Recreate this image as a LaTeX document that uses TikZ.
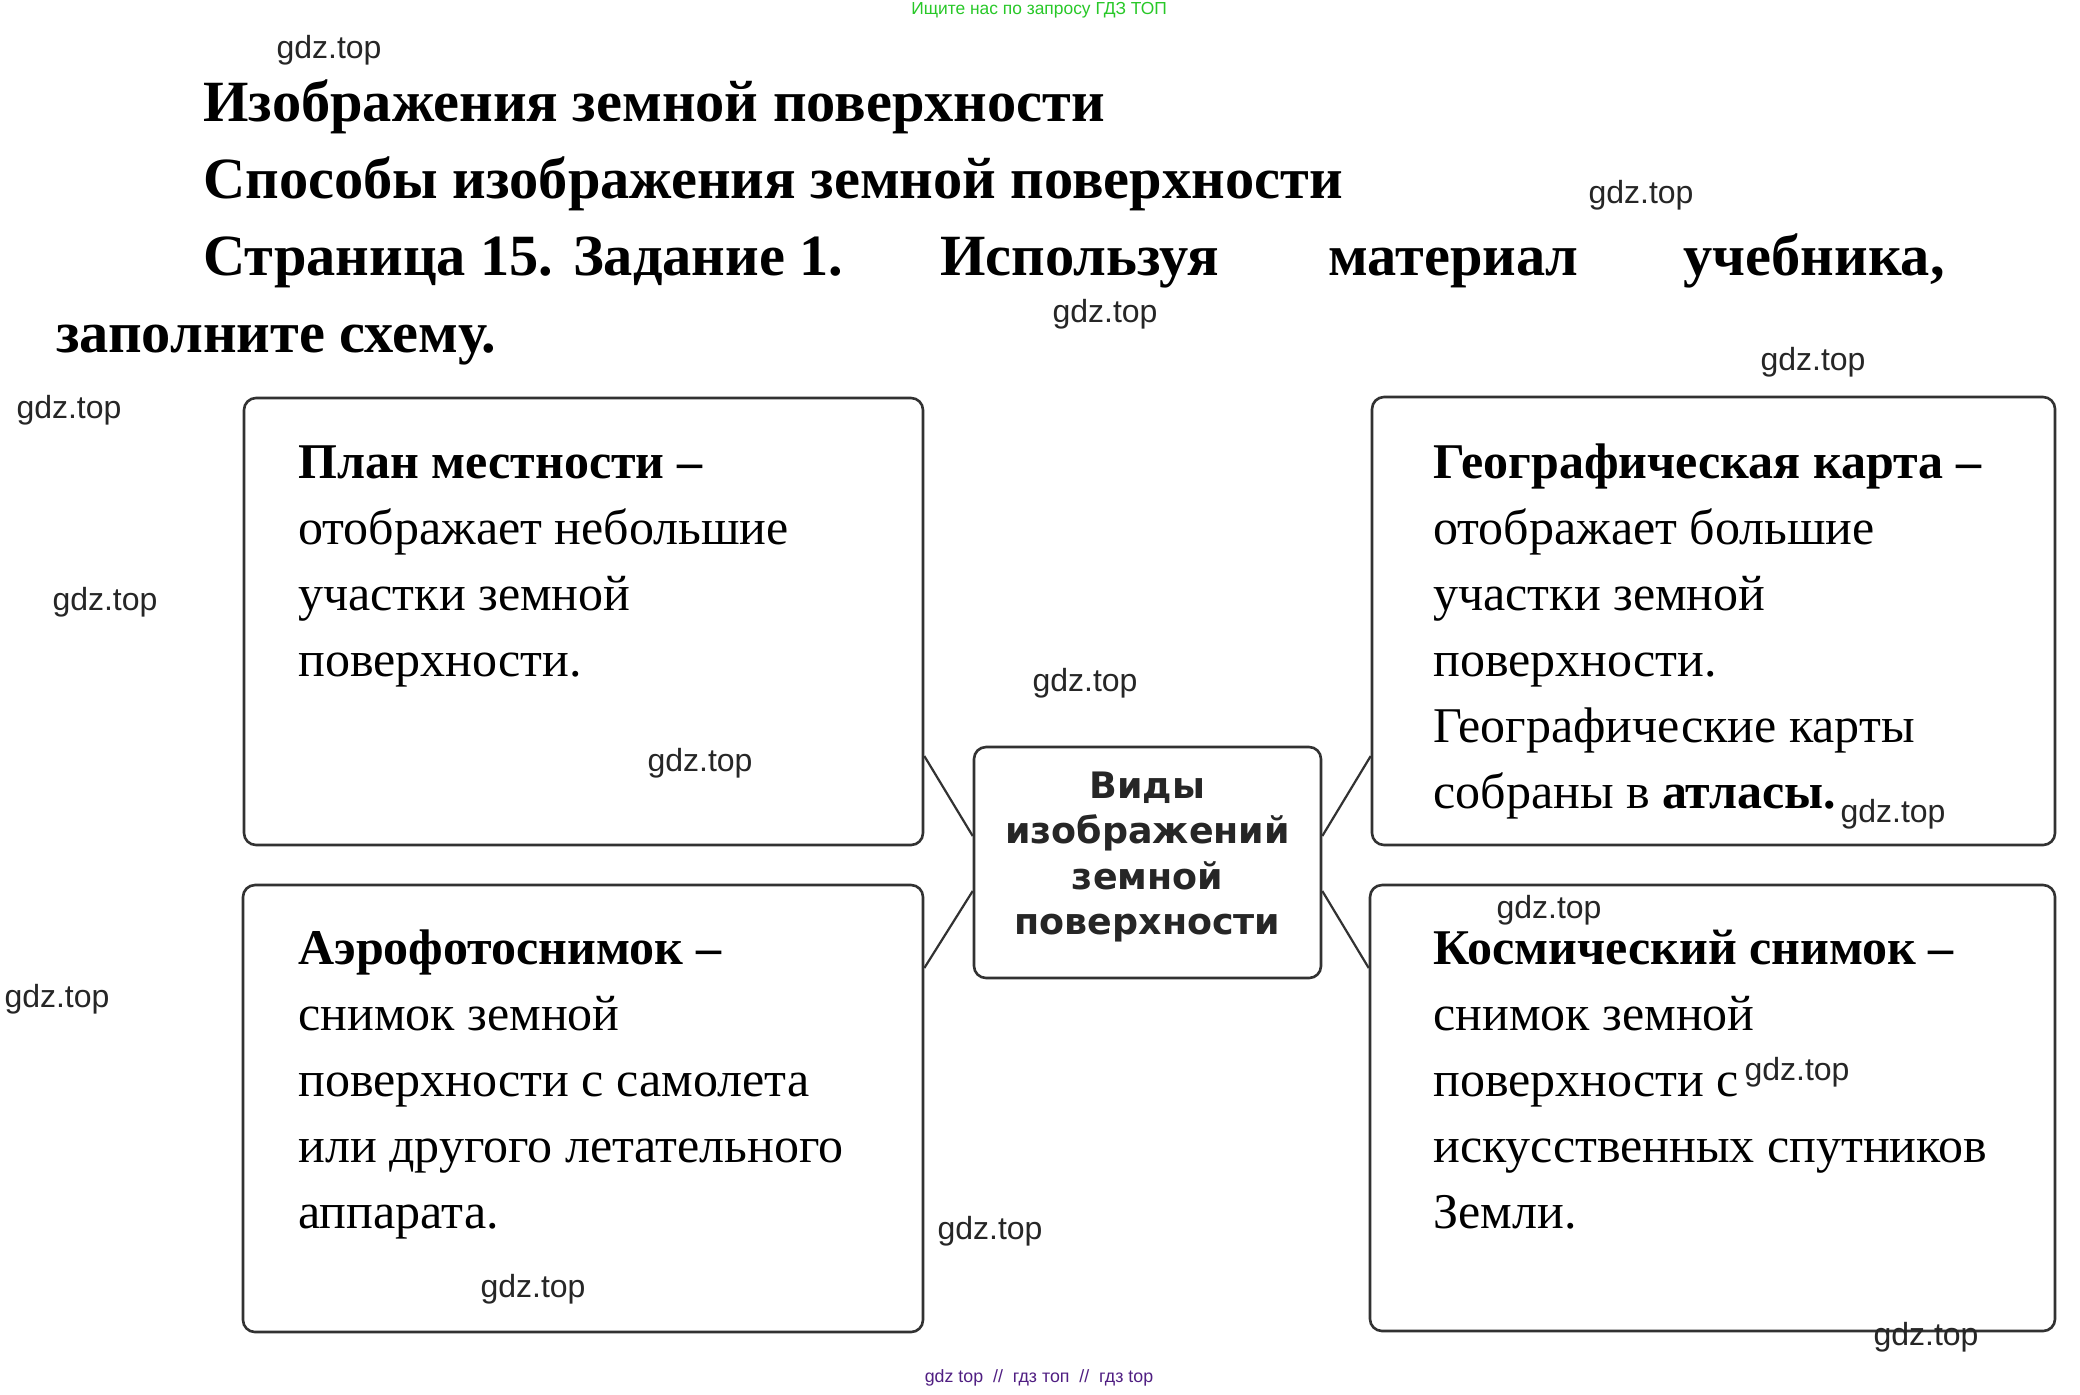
\documentclass[tikz,border=0pt]{standalone}
\usepackage{fontspec}
\setmainfont{Liberation Serif}
\newfontfamily\wmfont{Liberation Sans}
\newfontfamily\ctrfont{DejaVu Sans}
\definecolor{wmgreen}{RGB}{40,200,40}
\definecolor{wmpurple}{RGB}{80,30,130}
\definecolor{boxline}{RGB}{50,50,50}
\begin{document}
\begin{tikzpicture}[x=0.5pt,y=-0.5pt,
  card/.style={draw=boxline,line width=1.3pt,rounded corners=6pt,inner sep=0pt},
  link/.style={draw=boxline,line width=1.1pt},
  body/.style={anchor=base west,inner sep=0pt,font=\fontsize{25}{33}\selectfont},
  ttl/.style={anchor=base west,inner sep=0pt,font=\fontsize{29.2}{38}\selectfont\bfseries},
  wm/.style={inner sep=0pt,font=\wmfont\fontsize{16}{18}\selectfont,text=black!85},
  ctrtext/.style={inner sep=0pt,font=\ctrfont\bfseries\fontsize{18.2}{22.7}\selectfont,text=black!85,align=center}]
\useasboundingbox[fill=white] (0,0) rectangle (2080,1394);

% header watermark
\node[inner sep=0pt,font=\wmfont\fontsize{8.7}{10}\selectfont,text=wmgreen] (top) at (1039,10) {Ищите нас по запросу ГДЗ ТОП};

% titles
\node[ttl] (t1) at (203,121) {Изображения земной поверхности};
\node[ttl] (t2) at (203,198) {Способы изображения земной поверхности};
\node[ttl] (t3a) at (203,275) {Страница 15. Задание 1.};
\node[ttl] (t3b) at (940,275) {Используя};
\node[ttl] (t3c) at (1328,275) {материал};
\node[ttl,anchor=base east] (t3d) at (1945,275) {учебника,};
\node[ttl] (t4) at (56,352) {заполните схему.};

% boxes
\node[card,minimum width=339.5pt,minimum height=223.5pt] (tl) at (583.5,621.5) {};
\node[card,minimum width=340pt,minimum height=223.5pt] (bl) at (583,1108.5) {};
\node[card,minimum width=341.5pt,minimum height=224pt] (tr) at (1713.5,621) {};
\node[card,minimum width=342.5pt,minimum height=223pt] (br) at (1712.5,1108) {};
\node[card,minimum width=173.5pt,minimum height=115.5pt] (ctr) at (1147.5,862.5) {};
\node[ctrtext] (ctrtxt) at (1147.5,857) {Виды\\изображений\\земной\\поверхности};

% connectors
\coordinate (ptl) at (tl.east |- 0,756);
\coordinate (pbl) at (bl.east |- 0,968);
\coordinate (ptr) at (tr.west |- 0,756);
\coordinate (pbr) at (br.west |- 0,968);
\coordinate (cl1) at (ctr.west |- 0,836);
\coordinate (cl2) at (ctr.west |- 0,891);
\coordinate (cr1) at (ctr.east |- 0,836);
\coordinate (cr2) at (ctr.east |- 0,891);
\draw[link] (ptl) -- (cl1);
\draw[link] (pbl) -- (cl2);
\draw[link] (ptr) -- (cr1);
\draw[link] (pbr) -- (cr2);

% top-left text
\node[body] (a1) at (298,478) {\textbf{План местности –}};
\node[body] (a2) at (298,544) {отображает небольшие};
\node[body] (a3) at (298,610) {участки земной};
\node[body] (a4) at (298,676) {поверхности.};

% top-right text
\node[body] (b1) at (1433,478) {\textbf{Географическая карта –}};
\node[body] (b2) at (1433,544) {отображает большие};
\node[body] (b3) at (1433,610) {участки земной};
\node[body] (b4) at (1433,676) {поверхности.};
\node[body] (b5) at (1433,742) {Географические карты};
\node[body] (b6) at (1433,808) {собраны в \textbf{атласы.}};

% bottom-left text
\node[body] (c1) at (298,964) {\textbf{Аэрофотоснимок –}};
\node[body] (c2) at (298,1030) {снимок земной};
\node[body] (c3) at (298,1096) {поверхности с самолета};
\node[body] (c4) at (298,1162) {или другого летательного};
\node[body] (c5) at (298,1228) {аппарата.};

% bottom-right text
\node[body] (d1) at (1433,964) {\textbf{Космический снимок –}};
\node[body] (d2) at (1433,1030) {снимок земной};
\node[body] (d3) at (1433,1096) {поверхности с};
\node[body] (d4) at (1433,1162) {искусственных спутников};
\node[body] (d5) at (1433,1228) {Земли.};

% watermarks
\node[wm] (w1) at (329,50) {gdz.top};
\node[wm] (w2) at (1641,195) {gdz.top};
\node[wm] (w3) at (1105,314) {gdz.top};
\node[wm] (w4) at (1813,362) {gdz.top};
\node[wm] (w5) at (69,410) {gdz.top};
\node[wm] (w6) at (105,602) {gdz.top};
\node[wm] (w7) at (1085,683) {gdz.top};
\node[wm] (w8) at (700,763) {gdz.top};
\node[wm] (w9) at (1893,814) {gdz.top};
\node[wm] (w10) at (1549,910) {gdz.top};
\node[wm] (w11) at (57,999) {gdz.top};
\node[wm] (w12) at (1797,1072) {gdz.top};
\node[wm] (w13) at (990,1231) {gdz.top};
\node[wm] (w14) at (533,1289) {gdz.top};
\node[wm] (w15) at (1926,1337) {gdz.top};

% footer
\node[inner sep=0pt,font=\wmfont\fontsize{8.9}{10}\selectfont,text=wmpurple] (foot) at (1039,1378) {gdz top\ \ //\ \ гдз топ\ \ //\ \ гдз top};
\end{tikzpicture}
\end{document}
